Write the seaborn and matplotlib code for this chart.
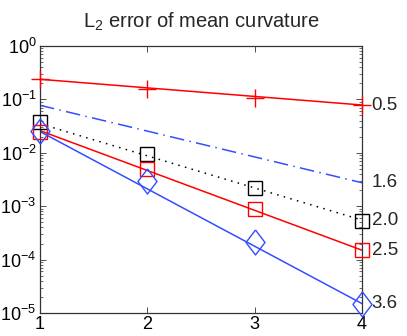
import numpy as np
import pandas as pd
import seaborn as sns
import matplotlib
matplotlib.use("Agg")
import matplotlib.pyplot as plt

sns.set_style("ticks")
plt.rcParams['font.family'] = ['Liberation Sans', 'DejaVu Sans']
plt.rcParams['mathtext.fontset'] = 'custom'
plt.rcParams['mathtext.rm'] = 'Liberation Sans'
plt.rcParams['mathtext.it'] = 'Liberation Sans'
plt.rcParams['mathtext.default'] = 'regular'

# data
levels = [1, 2, 3, 4]
err_plus = [0.238, 0.155, 0.108, 0.0785]       # red +
err_sq_black = [0.038, 0.0093, 0.0022, 0.00052]  # black squares
err_sq_red = [0.025, 0.005, 0.00087, 0.00015]   # red squares
err_diamond = [0.0257, 0.0030, 0.00021, 0.000015]  # blue diamonds

fit_x = [1, 4]
fit_plus = [0.238, 0.0785]
fit_dashdot = [0.0776, 0.00275]
fit_dotted = [0.035, 0.00055]
fit_red = [0.026, 0.00015]
fit_blue = [0.025, 0.000015]

rate_labels = ["0.5", "1.6", "2.0", "2.5", "3.6"]

RED = (1.0, 0.0, 0.0)
BLUE = (0.2, 0.3, 1.0)

fig = plt.figure(figsize=(4.07, 3.36), dpi=100)
ax = fig.add_axes([40/407, 23/336, 322/407, 267/336])

def line(x, y, color, ls, lw=1.1):
    sns.lineplot(x=x, y=y, ax=ax, color=color, linestyle=ls, linewidth=lw,
                 errorbar=None, estimator=None, sort=False)

def marks(x, y, color, marker, ms, mew=1.0):
    sns.lineplot(x=x, y=y, ax=ax, color=color, linestyle='none', marker=marker,
                 markersize=ms, markerfacecolor='none', markeredgecolor=color,
                 markeredgewidth=mew, errorbar=None, estimator=None, sort=False,
                 clip_on=False, zorder=5)

line(fit_x, fit_plus, RED, '-')
line(fit_x, fit_dashdot, BLUE, (0, (9.5, 3.5, 1, 3.5)))
line(fit_x, fit_dotted, 'black', (0, (1, 3.5)))
line(fit_x, fit_red, RED, '-')
line(fit_x, fit_blue, BLUE, '-')

marks(levels, err_plus, RED, '+', 13)
marks(levels, err_sq_black, 'black', 's', 10)
marks(levels, err_sq_red, RED, 's', 10)
diamond = [(0, 1), (0.76, 0), (0, -1), (-0.76, 0), (0, 1)]
marks(levels, err_diamond, BLUE, diamond, 18)

ax.set_yscale('log')
ax.set_ylim(1e-5, 1e0)
ax.set_xlim(1, 4)
ax.set_xticks(levels)
ax.set_xticklabels([str(v) for v in levels])
ax.set_yticks([1e-5, 1e-4, 1e-3, 1e-2, 1e-1, 1e0])
ax.set_yticklabels([r'$10^{%d}$' % e for e in [-5, -4, -3, -2, -1, 0]])
ax.set_xlabel('')
ax.set_ylabel('')
ax.tick_params(which='both', direction='in', top=True, right=True,
               labelsize=13, colors='#333333', labelcolor='black')
ax.tick_params(which='major', length=4, width=0.6)
ax.tick_params(axis='y', which='major', pad=2.5)
ax.tick_params(axis='x', which='major', pad=2)
ax.tick_params(which='minor', length=2, width=0.5)
for s in ax.spines.values():
    s.set_color('#333333')
    s.set_linewidth(0.9)

ends = [fit_plus[-1], fit_dashdot[-1], fit_dotted[-1], fit_red[-1], fit_blue[-1]]
for lab, yv in zip(rate_labels, ends):
    ax.annotate(lab, xy=(4, yv), xytext=(7, 0), textcoords='offset points',
                ha='left', va='center', fontsize=13.5, annotation_clip=False)

ax.set_title(r'L$_2$ error of mean curvature', fontsize=14.5, pad=13)

fig.savefig('out.png', dpi=100)
